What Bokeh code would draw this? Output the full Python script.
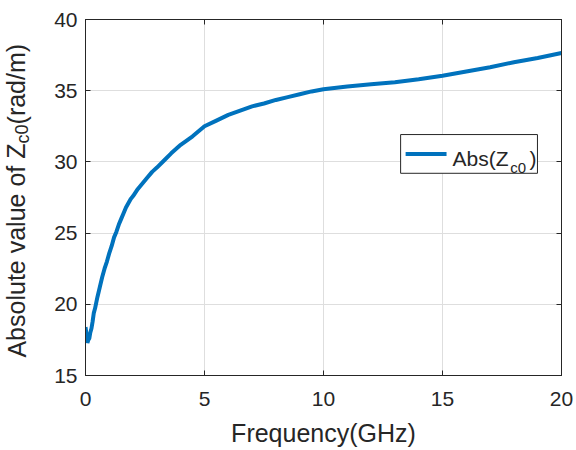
from bokeh.plotting import figure
from bokeh.layouts import row
from bokeh.models import LinearAxis, Label, BoxAnnotation, FixedTicker, Range1d
from bokeh.embed import file_html
from bokeh.resources import INLINE

freq = [0.0, 0.04, 0.08, 0.12, 0.16, 0.2, 0.25, 0.3, 0.35, 0.4, 0.45, 0.5, 0.6, 0.7,
        0.8, 0.9, 1.0, 1.1, 1.2, 1.3, 1.4, 1.5, 1.6, 1.7, 1.8, 1.9, 2.0, 2.2, 2.4, 2.6,
        2.8, 3.0, 3.3, 3.6, 4.0, 4.5, 5.0, 5.5, 6.0, 6.5, 7.0, 7.5, 8.0, 8.5, 9.0, 9.5,
        10.0, 11.0, 12.0, 13.0, 14.0, 15.0, 16.0, 17.0, 18.0, 19.0, 20.0]
abs_zc0 = [18.4, 17.9, 17.3, 17.5, 17.6, 18.0, 18.3, 18.8, 19.4, 19.7, 20.1, 20.5, 21.2, 21.9,
           22.5, 23.0, 23.6, 24.1, 24.7, 25.1, 25.6, 26.0, 26.4, 26.8, 27.1, 27.4, 27.6, 28.1,
           28.5, 28.9, 29.3, 29.6, 30.1, 30.6, 31.2, 31.8, 32.5, 32.9, 33.3, 33.6, 33.9, 34.1,
           34.35, 34.55, 34.75, 34.95, 35.1, 35.3, 35.45, 35.6, 35.8, 36.05, 36.35, 36.65, 37.0,
           37.3, 37.65]
x_ticks = [0, 5, 10, 15, 20]
y_ticks = [15, 20, 25, 30, 35, 40]

AX = "#262626"
FONT = "Liberation Sans"
BLUE = "#0072BD"

LEFT_W = 45

# --- main plot ---
p = figure(width=576 - LEFT_W, height=450, output_backend="svg", toolbar_location=None,
           x_range=Range1d(0, 20), y_range=Range1d(15, 40),
           min_border_left=85 - LEFT_W, min_border_right=15, min_border_top=19,
           min_border_bottom=75, x_axis_label="Frequency(GHz)")
p.background_fill_color = "white"
p.border_fill_color = "white"
p.outline_line_color = AX
p.outline_line_width = 1

# --- narrow panel holding the y-axis title (with subscript), shares the y scale ---
lp = figure(width=LEFT_W, height=450, output_backend="svg", toolbar_location=None,
            x_range=Range1d(0, LEFT_W), y_range=p.y_range,
            x_axis_location=None, y_axis_location=None, min_border=0)
lp.grid.visible = False
lp.outline_line_color = None
lp.background_fill_color = "white"
lp.border_fill_color = "white"
lp.add_layout(Label(x=16, y=16.26, text="Absolute value of Z", text_font=FONT,
                    text_font_size="25px", text_color=AX, angle=1.5708,
                    text_baseline="alphabetic"))
lp.add_layout(Label(x=22, y=31.29, text="c0", text_font=FONT,
                    text_font_size="18px", text_color=AX, angle=1.5708,
                    text_baseline="alphabetic"))
lp.add_layout(Label(x=16, y=32.63, text="(rad/m)", text_font=FONT,
                    text_font_size="25px", text_color=AX, angle=1.5708,
                    text_baseline="alphabetic"))

for ax in [p.xaxis[0], p.yaxis[0]]:
    ax.axis_line_color = AX
    ax.major_tick_line_color = AX
    ax.major_tick_in = 5
    ax.major_tick_out = 0
    ax.minor_tick_line_color = None
    ax.major_label_text_font = FONT
    ax.major_label_text_font_size = "21px"
    ax.major_label_text_color = AX
p.xaxis[0].ticker = FixedTicker(ticks=x_ticks)
p.yaxis[0].ticker = FixedTicker(ticks=y_ticks)
p.xaxis[0].major_label_standoff = 16
p.yaxis[0].major_label_standoff = 8
p.xaxis[0].axis_label_text_font = FONT
p.xaxis[0].axis_label_text_font_size = "25px"
p.xaxis[0].axis_label_text_font_style = "normal"
p.xaxis[0].axis_label_text_color = AX
p.xaxis[0].axis_label_standoff = 10

for loc, tk in [("above", x_ticks), ("right", y_ticks)]:
    a = LinearAxis(ticker=FixedTicker(ticks=tk),
                   major_label_overrides={t: "" for t in tk},
                   major_tick_in=5, major_tick_out=0, minor_tick_line_color=None,
                   axis_line_color=AX, major_tick_line_color=AX, major_label_standoff=0)
    p.add_layout(a, loc)

p.xgrid.ticker = FixedTicker(ticks=x_ticks)
p.ygrid.ticker = FixedTicker(ticks=y_ticks)
p.grid.grid_line_color = "#dedede"
p.grid.grid_line_width = 1

p.line(freq, abs_zc0, line_color=BLUE, line_width=4)

# Legend (manual, for the subscript)
p.add_layout(BoxAnnotation(left=13.24, right=18.99, bottom=29.2, top=31.92,
                           fill_color="white", fill_alpha=1.0,
                           line_color=AX, line_alpha=1.0, line_width=1))
p.line([13.45, 15.17], [30.55, 30.55], line_color=BLUE, line_width=4, level="overlay")
p.add_layout(Label(x=15.42, y=30.26, text="Abs(Z", text_font=FONT, text_font_size="21px",
                   text_color=AX, text_baseline="alphabetic"))
p.add_layout(Label(x=17.85, y=29.63, text="c0", text_font=FONT, text_font_size="15px",
                   text_color=AX, text_baseline="alphabetic"))
p.add_layout(Label(x=18.66, y=30.26, text=")", text_font=FONT, text_font_size="21px",
                   text_color=AX, text_baseline="alphabetic"))

layout = row(lp, p, spacing=0)
open("out.html", "w").write(file_html(layout, INLINE))
